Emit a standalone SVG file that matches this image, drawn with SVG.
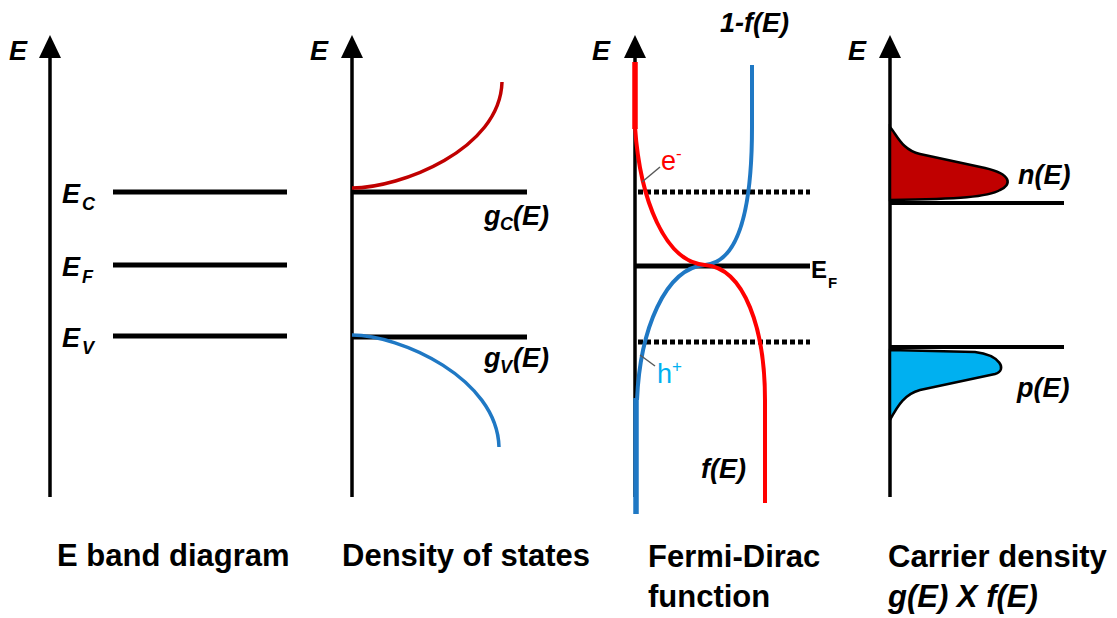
<svg xmlns="http://www.w3.org/2000/svg" xmlns:xlink="http://www.w3.org/1999/xlink" width="1117" height="618" viewBox="0 0 1117 618">
<style>
.axis{stroke:#000;stroke-width:3.5;fill:none}
.lvl{stroke:#000;stroke-width:5;fill:none}
.lvl4{stroke:#000;stroke-width:4;fill:none}
.dot{stroke:#000;stroke-width:5;stroke-dasharray:5 3;fill:none}
.lbl{font-family:"Liberation Sans",Arial,sans-serif;font-weight:bold;font-style:italic;font-size:27px;fill:#000}
.sub{font-size:18px}
.cap{font-family:"Liberation Sans",Arial,sans-serif;font-weight:bold;font-size:31px;fill:#000}
.lead{stroke:#595959;stroke-width:1.5}
</style>
<defs>
<path id="arr" d="M-11,23 L0,0 L11,23 Z" fill="#000"/>
</defs>
<rect width="1117" height="618" fill="#fff"/>

<g id="band-diagram">
<line class="axis" x1="50" y1="50" x2="50" y2="497"/>
<use xlink:href="#arr" x="50" y="35"/>
<text class="lbl" x="9" y="60">E</text>
<line class="lvl" x1="113" y1="192" x2="287" y2="192"/>
<line class="lvl" x1="113" y1="265" x2="287" y2="265"/>
<line class="lvl" x1="113" y1="336" x2="287" y2="336"/>
<text class="lbl" x="62" y="203">E</text><text class="lbl sub" x="82" y="210">C</text>
<text class="lbl" x="62" y="276">E</text><text class="lbl sub" x="82" y="283">F</text>
<text class="lbl" x="62" y="347">E</text><text class="lbl sub" x="82" y="354">V</text>
<text class="cap" x="57" y="566">E band diagram</text>
</g>

<g id="density-of-states">
<line class="axis" x1="352" y1="50" x2="352" y2="497"/>
<use xlink:href="#arr" x="352" y="35"/>
<text class="lbl" x="310" y="60">E</text>
<line class="lvl" x1="352" y1="192" x2="527" y2="192"/>
<line class="lvl" x1="352" y1="337" x2="527" y2="337"/>
<path d="M352,188 C400,188 500,150 502,82" stroke="#C00000" stroke-width="3.5" fill="none"/>
<path d="M352,335 C400,335 497,378 499,447" stroke="#1F78C4" stroke-width="3.5" fill="none"/>
<text class="lbl" x="484" y="225">g</text><text class="lbl sub" x="500" y="230">C</text><text class="lbl" x="513" y="225">(E)</text>
<text class="lbl" x="484" y="367">g</text><text class="lbl sub" x="500" y="373">V</text><text class="lbl" x="513" y="367">(E)</text>
<text class="cap" x="342" y="566">Density of states</text>
</g>

<g id="fermi-dirac">
<line class="axis" x1="635" y1="50" x2="635" y2="497"/>
<use xlink:href="#arr" x="635" y="35"/>
<text class="lbl" x="592" y="60">E</text>
<line class="dot" x1="638" y1="192" x2="810" y2="192"/>
<line class="dot" x1="638" y1="342" x2="810" y2="342"/>
<line class="lvl" x1="635" y1="266" x2="810" y2="266"/>
<text x="811" y="278" font-family="'Liberation Sans',Arial,sans-serif" font-weight="bold" font-size="24">E</text>
<text x="828" y="288" font-family="'Liberation Sans',Arial,sans-serif" font-weight="bold" font-size="15">F</text>
<path d="M752,65 L752,127 C752,205 740,262 705,265 C665,268 640,330 637,400" stroke="#1F78C4" stroke-width="4" fill="none"/>
<line x1="636" y1="398" x2="636" y2="514" stroke="#1F78C4" stroke-width="5.5"/>
<path d="M635,127 C640,200 665,262 705,265 C745,268 765,330 765,400 L765,503" stroke="#FF0000" stroke-width="4" fill="none"/>
<line x1="635" y1="62" x2="635" y2="129" stroke="#FF0000" stroke-width="5.5"/>
<line class="lead" x1="642" y1="182" x2="660" y2="167"/>
<line class="lead" x1="640" y1="355" x2="655" y2="366"/>
<text x="661" y="170" font-family="'Liberation Sans',Arial,sans-serif" font-size="27" fill="#FF0000">e<tspan font-size="17" dy="-11">-</tspan></text>
<text x="657" y="383" font-family="'Liberation Sans',Arial,sans-serif" font-size="27" fill="#00B0F0">h<tspan font-size="17" dy="-11">+</tspan></text>
<text class="lbl" x="720" y="32">1-f(E)</text>
<text class="lbl" x="701" y="478">f(E)</text>
<text class="cap" x="648" y="567">Fermi-Dirac</text>
<text class="cap" x="648" y="607">function</text>
</g>

<g id="carrier-density">
<line class="axis" x1="890" y1="50" x2="890" y2="497"/>
<use xlink:href="#arr" x="890" y="35"/>
<text class="lbl" x="848" y="60">E</text>
<path d="M890,127 C897,135 902,150 920,154 L985,168 C1012,174 1012,185 1000,190 C988,197 960,199 890,200 Z" fill="#C00000" stroke="#000" stroke-width="2.5"/>
<path d="M890,350 L975,352 C1000,355 1008,370 995,374 L920,390 C905,394 898,405 890,420 Z" fill="#00B0F0" stroke="#000" stroke-width="2.5"/>
<line class="lvl4" x1="890" y1="203" x2="1064" y2="203"/>
<line class="lvl4" x1="890" y1="347" x2="1064" y2="347"/>
<text class="lbl" x="1018" y="184">n(E)</text>
<text class="lbl" x="1017" y="397">p(E)</text>
<text class="cap" x="888" y="567">Carrier density</text>
<text class="cap" x="888" y="607" font-style="italic">g(E) X f(E)</text>
</g>
</svg>
